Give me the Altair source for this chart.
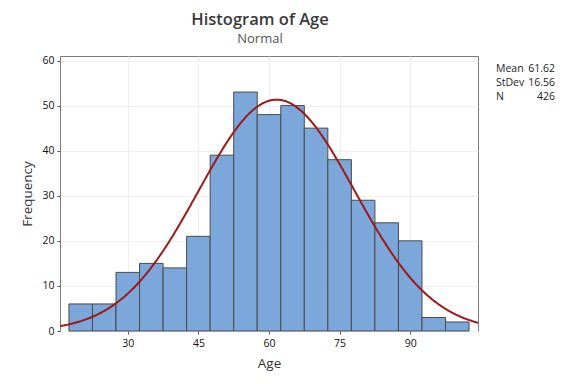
import altair as alt
import pandas as pd

# ---- data ----
bin_start = [17.5, 22.5, 27.5, 32.5, 37.5, 42.5, 47.5, 52.5, 57.5, 62.5,
             67.5, 72.5, 77.5, 82.5, 87.5, 92.5, 97.5]
counts = [6, 6, 13, 15, 14, 21, 39, 53, 48, 50, 45, 38, 29, 24, 20, 3, 2]
bin_width = 5
mean_age = 61.62
sd_age = 16.56
n_obs = 426
x_ticks = [30, 45, 60, 75, 90]
y_ticks = [0, 10, 20, 30, 40, 50, 60]
stat_labels = ["Mean", "StDev", "N"]
stat_values = ["61.62", "16.56", "426"]

FONT = "Open Sans"
W, H = 418, 275

hist = pd.DataFrame({
    "start": bin_start,
    "end": [s + bin_width for s in bin_start],
    "count": counts,
})
stats = pd.DataFrame({"label": stat_labels, "value": stat_values, "row": [0, 1, 2]})

xscale = alt.Scale(domain=[15.6, 104.4], nice=False, zero=False, padding=0)
yscale = alt.Scale(domain=[0, 61], nice=False, padding=0)

bars = alt.Chart(hist).mark_bar(
    fill="#7ba7da", stroke="#4a4a4a", strokeWidth=1, opacity=1, orient="vertical"
).encode(
    x=alt.X("start:Q", scale=xscale,
            axis=alt.Axis(title="Age", values=x_ticks, grid=True, gridColor="#efefef",
                          domain=False, tickSize=3, tickColor="#555", labelPadding=4,
                          titlePadding=8, labelFontSize=10.5, titleFontSize=13.5)),
    x2="end:Q",
    y=alt.Y("count:Q", scale=yscale,
            axis=alt.Axis(title="Frequency", values=y_ticks, grid=True, gridColor="#efefef",
                          domain=False, tickSize=3, tickColor="#555", labelPadding=3,
                          titlePadding=7, labelFontSize=10.5, titleFontSize=13.5)),
    y2=alt.datum(0),
)

curve = alt.Chart(alt.sequence(15.6, 104.45, 0.2, as_="age")).transform_calculate(
    freq=f"{n_obs}*{bin_width}*exp(-0.5*pow((datum.age-{mean_age})/{sd_age},2))/({sd_age}*sqrt(2*PI))"
).mark_line(color="#9e1a1a", strokeWidth=2, clip=True).encode(
    x=alt.X("age:Q", scale=xscale),
    y=alt.Y("freq:Q", scale=yscale),
)

stat_lab = alt.Chart(stats).transform_calculate(py="datum.row*14+13").mark_text(
    align="left", baseline="middle", font=FONT, fontSize=10.5, color="#222"
).encode(
    x=alt.value(W + 18),
    y=alt.Y("py:Q", scale=None),
    text="label:N",
)
stat_val = alt.Chart(stats).transform_calculate(py="datum.row*14+13").mark_text(
    align="right", baseline="middle", font=FONT, fontSize=10.5, color="#222"
).encode(
    x=alt.value(W + 77),
    y=alt.Y("py:Q", scale=None),
    text="value:N",
)

chart = alt.layer(bars, curve, stat_lab, stat_val).properties(
    width=W, height=H,
    title=alt.TitleParams(
        "Histogram of Age", subtitle="Normal", anchor="middle", dx=-9,
        fontSize=16.5, fontWeight=600, color="#3a3a3a", font=FONT,
        subtitleFontSize=13, subtitleColor="#555", subtitleFont=FONT,
        offset=10, subtitlePadding=4,
    ),
    autosize=alt.AutoSizeParams(type="none"),
    padding={"left": 52, "top": 48, "right": 90, "bottom": 45},
).configure_view(
    stroke="#7a7a7a", strokeWidth=1
).configure_axis(
    labelFont=FONT, titleFont=FONT, labelColor="#111", titleColor="#333",
    titleFontWeight="normal"
)

chart.save("out.html", embed_options={"renderer": "svg", "actions": False})
